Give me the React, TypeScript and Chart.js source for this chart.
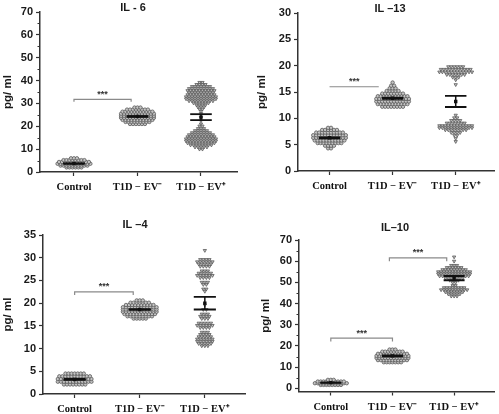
import React, { useEffect, useRef } from 'react';
import { Chart, registerables } from 'chart.js';
Chart.register(...registerables);

type Row = [number, number]; // [pg/ml value, number of points at that level]

const categories = ['Control', 'T1D \u2212 EV\u207B', 'T1D \u2212 EV\u207A'];

// ---------- IL-6 ----------
const il6Control: Row[] = [[2.0, 6], [2.8, 10], [3.6, 12], [4.4, 11], [5.2, 8], [6.0, 3]];
const il6EvNeg: Row[] = [[21.0, 6], [21.9, 9], [22.8, 11], [23.7, 12], [24.6, 12], [25.5, 12], [26.4, 11], [27.3, 8], [28.2, 3]];
const il6EvPos: Row[] = [
  [39.2, 2], [38.3, 4], [37.4, 7], [36.5, 9], [35.6, 10], [34.7, 9], [33.8, 10], [32.9, 11], [32.0, 11], [31.1, 9],
  [30.2, 6], [29.3, 4], [28.4, 3], [27.5, 2], [26.5, 1], [25.6, 1], [23.8, 1], [22.4, 1], [21.0, 1], [20.1, 2],
  [19.0, 3], [18.1, 5], [17.2, 7], [16.3, 9], [15.4, 10], [14.5, 11], [13.6, 11], [12.7, 10], [11.8, 8], [10.9, 5], [10.0, 2],
];
const il6Means = [3.7, 24.3, 24.0];
const il6Sems = [0.15, 0.2, 1.3];

// ---------- IL-13 ----------
const il13Control: Row[] = [[4.3, 2], [4.8, 4], [5.3, 9], [5.8, 11], [6.3, 12], [6.8, 12], [7.3, 10], [7.8, 6], [8.2, 2]];
const il13EvNeg: Row[] = [[12.2, 8], [12.7, 11], [13.2, 12], [13.7, 12], [14.2, 11], [14.7, 8], [15.2, 5], [15.7, 3], [16.2, 2], [16.8, 1]];
const il13EvPos: Row[] = [
  [19.8, 6], [19.3, 11], [18.8, 12], [18.3, 7], [17.8, 3], [17.3, 1], [16.4, 1],
  [10.6, 1], [10.1, 2], [9.6, 4], [9.1, 7], [8.6, 12], [8.2, 12], [7.8, 8], [7.3, 4], [6.8, 2], [6.2, 1], [5.6, 1],
];
const il13Means = [6.3, 13.8, 13.2];
const il13Sems = [0.08, 0.12, 1.05];

// ---------- IL-4 ----------
const il4Control: Row[] = [[2.1, 8], [2.7, 12], [3.3, 12], [3.9, 11], [4.5, 7]];
const il4EvNeg: Row[] = [[16.6, 5], [17.1, 9], [17.6, 11], [18.1, 12], [18.6, 12], [19.1, 12], [19.6, 10], [20.1, 7], [20.6, 3]];
const il4EvPos: Row[] = [
  [31.6, 1], [29.6, 4], [29.1, 6], [28.6, 5], [28.1, 4], [27.1, 3], [26.6, 5], [26.1, 6], [25.6, 4], [24.6, 3],
  [24.1, 2], [23.1, 2], [22.6, 1], [19.6, 1], [18.6, 2], [17.6, 3], [17.1, 4], [16.6, 3], [15.6, 5], [15.1, 6],
  [14.6, 4], [13.6, 3], [13.1, 4], [12.6, 5], [12.1, 6], [11.6, 6], [11.1, 5], [10.6, 3],
];
const il4Means = [3.2, 18.6, 20.0];
const il4Sems = [0.1, 0.1, 1.4];

// ---------- IL-10 ----------
const il10Control: Row[] = [[1.6, 8], [2.4, 12], [3.2, 10], [4.0, 3]];
const il10EvNeg: Row[] = [[12.3, 7], [13.3, 11], [14.3, 12], [15.3, 12], [16.3, 11], [17.3, 8], [18.3, 3]];
const il10EvPos: Row[] = [
  [62.0, 1], [60.0, 1], [58.0, 3], [57.0, 6], [56.0, 9], [55.0, 12], [54.0, 12], [53.0, 11], [52.0, 7], [51.0, 4],
  [50.0, 2], [48.5, 2], [47.5, 8], [46.5, 10], [45.5, 7], [44.5, 5], [43.5, 3],
];
const il10Means = [2.7, 15.3, 52.0];
const il10Sems = [0.1, 0.2, 1.0];

// significance brackets: [from group, to group, level, drop]
const il6Brackets = [[1, 1.9, 31.8, 1.1]];
const il13Brackets = [[1, 1.78, 16.0, 0]];
const il4Brackets = [[1, 1.9, 22.5, 0.7]];
const il10Brackets = [[1, 2.0, 23.7, 1.6], [1.95, 2.88, 61.6, 1.6]];

interface PanelCfg {
  title: string;
  groups: Row[][];
  means: number[];
  sems: number[];
  brackets: number[][];
  box: { left: number; top: number; w: number; h: number };
  axisLeft: number;
  areaTop: number;
  areaBottom: number;
  areaRight: number;
  xMin: number;
  xMax: number;
  yMin: number;
  yMax: number;
  yStep: number;
  minor: boolean;
  titlePos: [number, number];
  yTitlePad: number;
}

const panels: PanelCfg[] = [
  {
    title: 'IL - 6', groups: [il6Control, il6EvNeg, il6EvPos], means: il6Means, sems: il6Sems, brackets: il6Brackets,
    box: { left: 0, top: 0, w: 250, h: 200 }, axisLeft: 40, areaTop: 12, areaBottom: 172, areaRight: 237,
    xMin: 0.465, xMax: 3.567, yMin: 0, yMax: 70, yStep: 10, minor: true, titlePos: [133, 8], yTitlePad: 1,
  },
  {
    title: 'IL \u201313', groups: [il13Control, il13EvNeg, il13EvPos], means: il13Means, sems: il13Sems, brackets: il13Brackets,
    box: { left: 250, top: 0, w: 249, h: 200 }, axisLeft: 48, areaTop: 13, areaBottom: 171, areaRight: 247,
    xMin: 0.5, xMax: 3.61, yMin: 0, yMax: 30, yStep: 5, minor: false, titlePos: [140, 9], yTitlePad: 5,
  },
  {
    title: 'IL \u20134', groups: [il4Control, il4EvNeg, il4EvPos], means: il4Means, sems: il4Sems, brackets: il4Brackets,
    box: { left: 0, top: 200, w: 250, h: 214 }, axisLeft: 43, areaTop: 35, areaBottom: 194, areaRight: 248,
    xMin: 0.514, xMax: 3.62, yMin: 0, yMax: 35, yStep: 5, minor: false, titlePos: [135, 25], yTitlePad: 1,
  },
  {
    title: 'IL\u201310', groups: [il10Control, il10EvNeg, il10EvPos], means: il10Means, sems: il10Sems, brackets: il10Brackets,
    box: { left: 250, top: 200, w: 249, h: 214 }, axisLeft: 49, areaTop: 40, areaBottom: 191.5, areaRight: 248,
    xMin: 0.484, xMax: 3.65, yMin: -1.5, yMax: 70, yStep: 10, minor: true, titlePos: [145, 28], yTitlePad: 9,
  },
];

function swarm(rows: Row[], center: number, dx: number) {
  const pts: { x: number; y: number }[] = [];
  rows.forEach(([y, n]) => {
    for (let i = 0; i < n; i++) pts.push({ x: center + (i - (n - 1) / 2) * dx, y });
  });
  return pts;
}

const SANS = '"Liberation Sans", Arial, sans-serif';
const SERIF = '"Liberation Serif", "Times New Roman", serif';

function Panel({ cfg }: { cfg: PanelCfg }) {
  const ref = useRef<HTMLCanvasElement>(null);
  useEffect(() => {
    if (!ref.current) return;
    const datasets: any[] = [];
    const lineDs = (pts: { x: number; y: number }[], color: string, width: number) => ({
      type: 'scatter', data: pts, showLine: true, pointRadius: 0, borderColor: color, borderWidth: width,
      fill: false, order: 0,
    });
    const capW = 0.17;
    cfg.means.forEach((m, i) => {
      const c = i + 1;
      const s = cfg.sems[i];
      datasets.push(lineDs([{ x: c - capW, y: m + s }, { x: c + capW, y: m + s }], '#111', 1.8));
      datasets.push(lineDs([{ x: c - capW, y: m - s }, { x: c + capW, y: m - s }], '#111', 1.8));
      datasets.push(lineDs([{ x: c, y: m - s }, { x: c, y: m + s }], '#111', 1.5));
    });
    datasets.push({
      type: 'scatter', data: cfg.means.map((m, i) => ({ x: i + 1, y: m })), pointRadius: 2.4,
      pointStyle: 'rect', backgroundColor: '#111', borderColor: '#111', borderWidth: 0, order: 0,
    });
    cfg.brackets.forEach(([a, b, y, d]) => {
      datasets.push(lineDs([{ x: a, y: y - d }, { x: a, y }, { x: b, y }, { x: b, y: y - d }], '#8a8a8a', 1.2));
    });
    cfg.groups.forEach((rows, i) => {
      datasets.push({
        type: 'scatter', data: swarm(rows, i + 1, 0.047), pointRadius: i === 2 ? 1.9 : 1.7,
        pointStyle: i === 2 ? 'triangle' : 'circle', rotation: i === 2 ? 180 : 0,
        backgroundColor: '#c4c4c4', borderColor: '#5a5a5a', borderWidth: 0.8, order: 1,
      });
    });

    const majors: number[] = [];
    for (let v = 0; v <= cfg.yMax + 1e-9; v += cfg.yStep) majors.push(v);

    const decor = {
      id: 'decor',
      afterDraw(chart: any) {
        const ctx = chart.ctx;
        const xs = chart.scales.x;
        const ys = chart.scales.y;
        ctx.save();
        if (cfg.minor) {
          ctx.strokeStyle = '#333';
          ctx.lineWidth = 1;
          for (let v = cfg.yStep / 2; v < cfg.yMax; v += cfg.yStep) {
            const py = Math.round(ys.getPixelForValue(v)) + 0.5;
            ctx.beginPath();
            ctx.moveTo(chart.chartArea.left - 2.5, py);
            ctx.lineTo(chart.chartArea.left, py);
            ctx.stroke();
          }
        }
        ctx.fillStyle = '#1a1a1a';
        ctx.font = `bold 11px ${SANS}`;
        ctx.textAlign = 'center';
        ctx.textBaseline = 'middle';
        ctx.fillText(cfg.title, cfg.titlePos[0], cfg.titlePos[1]);
        ctx.font = `bold 9px ${SANS}`;
        ctx.fillStyle = '#333';
        cfg.brackets.forEach(([a, b, y]) => {
          const px = (xs.getPixelForValue(a) + xs.getPixelForValue(b)) / 2;
          const py = ys.getPixelForValue(y) - 5;
          ctx.fillText('***', px, py);
        });
        ctx.restore();
      },
    };

    const chart = new Chart(ref.current, {
      type: 'scatter',
      data: { datasets },
      plugins: [decor],
      options: {
        animation: false,
        responsive: false,
        devicePixelRatio: 1,
        layout: { padding: { left: 0, top: cfg.areaTop, right: cfg.box.w - cfg.areaRight, bottom: 0 } },
        plugins: { legend: { display: false }, tooltip: { enabled: false }, title: { display: false } },
        scales: {
          x: {
            type: 'linear', min: cfg.xMin, max: cfg.xMax,
            afterBuildTicks: (s: any) => { s.ticks = [1, 2, 3].map((v) => ({ value: v })); },
            afterFit: (s: any) => { s.height = cfg.box.h - cfg.areaBottom; },
            ticks: {
              autoSkip: false, maxRotation: 0, padding: 5, color: '#111',
              font: { family: SERIF, weight: 'bold', size: 10.5 },
              callback: (v: any) => categories[Math.round(Number(v)) - 1] ?? '',
            },
            grid: { drawOnChartArea: false, drawTicks: true, tickLength: 4, color: '#333', tickWidth: 1.2 },
            border: { display: true, color: '#333', width: 1.5 },
          },
          y: {
            type: 'linear', min: cfg.yMin, max: cfg.yMax,
            afterBuildTicks: (s: any) => { s.ticks = majors.map((v) => ({ value: v })); },
            afterFit: (s: any) => { s.width = cfg.axisLeft; },
            ticks: {
              padding: 3, color: '#1a1a1a',
              font: { family: SANS, weight: 'bold', size: 11 },
              callback: (v: any) => String(v),
            },
            title: {
              display: true, text: 'pg/ ml', color: '#1a1a1a',
              font: { family: SANS, weight: 'bold', size: 11.5 },
              padding: { top: cfg.yTitlePad, bottom: 0 },
            },
            grid: { drawOnChartArea: false, drawTicks: true, tickLength: 4, color: '#333', tickWidth: 1.2 },
            border: { display: true, color: '#333', width: 1.5 },
          },
        },
      } as any,
    });
    return () => chart.destroy();
  }, [cfg]);
  return (
    <canvas
      ref={ref}
      width={cfg.box.w}
      height={cfg.box.h}
      style={{ position: 'absolute', left: cfg.box.left, top: cfg.box.top, width: cfg.box.w, height: cfg.box.h }}
    />
  );
}

export default function App() {
  return (
    <div style={{ position: 'absolute', left: 0, top: 0, width: 499, height: 414, background: '#fff', overflow: 'hidden' }}>
      {panels.map((p, i) => (
        <Panel key={i} cfg={p} />
      ))}
    </div>
  );
}
